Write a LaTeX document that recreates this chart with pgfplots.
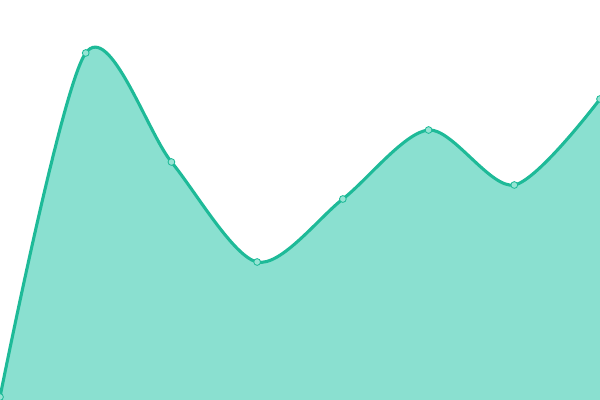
\documentclass[border=0pt]{standalone}
\usepackage{pgfplots}
\pgfplotsset{compat=1.18}
\definecolor{teal1}{RGB}{30,186,152}
\definecolor{tealfill}{RGB}{138,224,208}
\definecolor{tealmark}{RGB}{150,228,212}
\begin{document}
\begin{tikzpicture}
\begin{axis}[
    width=15cm, height=10cm,
    scale only axis,
    hide axis,
    xmin=0, xmax=7,
    ymin=0, ymax=400,
]
\addplot[draw=none, fill=tealfill, smooth, tension=0.5] coordinates {
    (0,3) (1,347) (2,238) (3,138) (4,201) (5,270) (6,215) (7,301)
} \closedcycle;
\addplot[teal1, line width=2.2pt, smooth, tension=0.5,
    mark=*, mark size=2.4pt,
    mark options={fill=tealmark, draw=teal1, line width=0.6pt}] coordinates {
    (0,3) (1,347) (2,238) (3,138) (4,201) (5,270) (6,215) (7,301)
};
\end{axis}
\pgfresetboundingbox
\path (current axis.south west) rectangle (current axis.north east);
\end{tikzpicture}
\end{document}
